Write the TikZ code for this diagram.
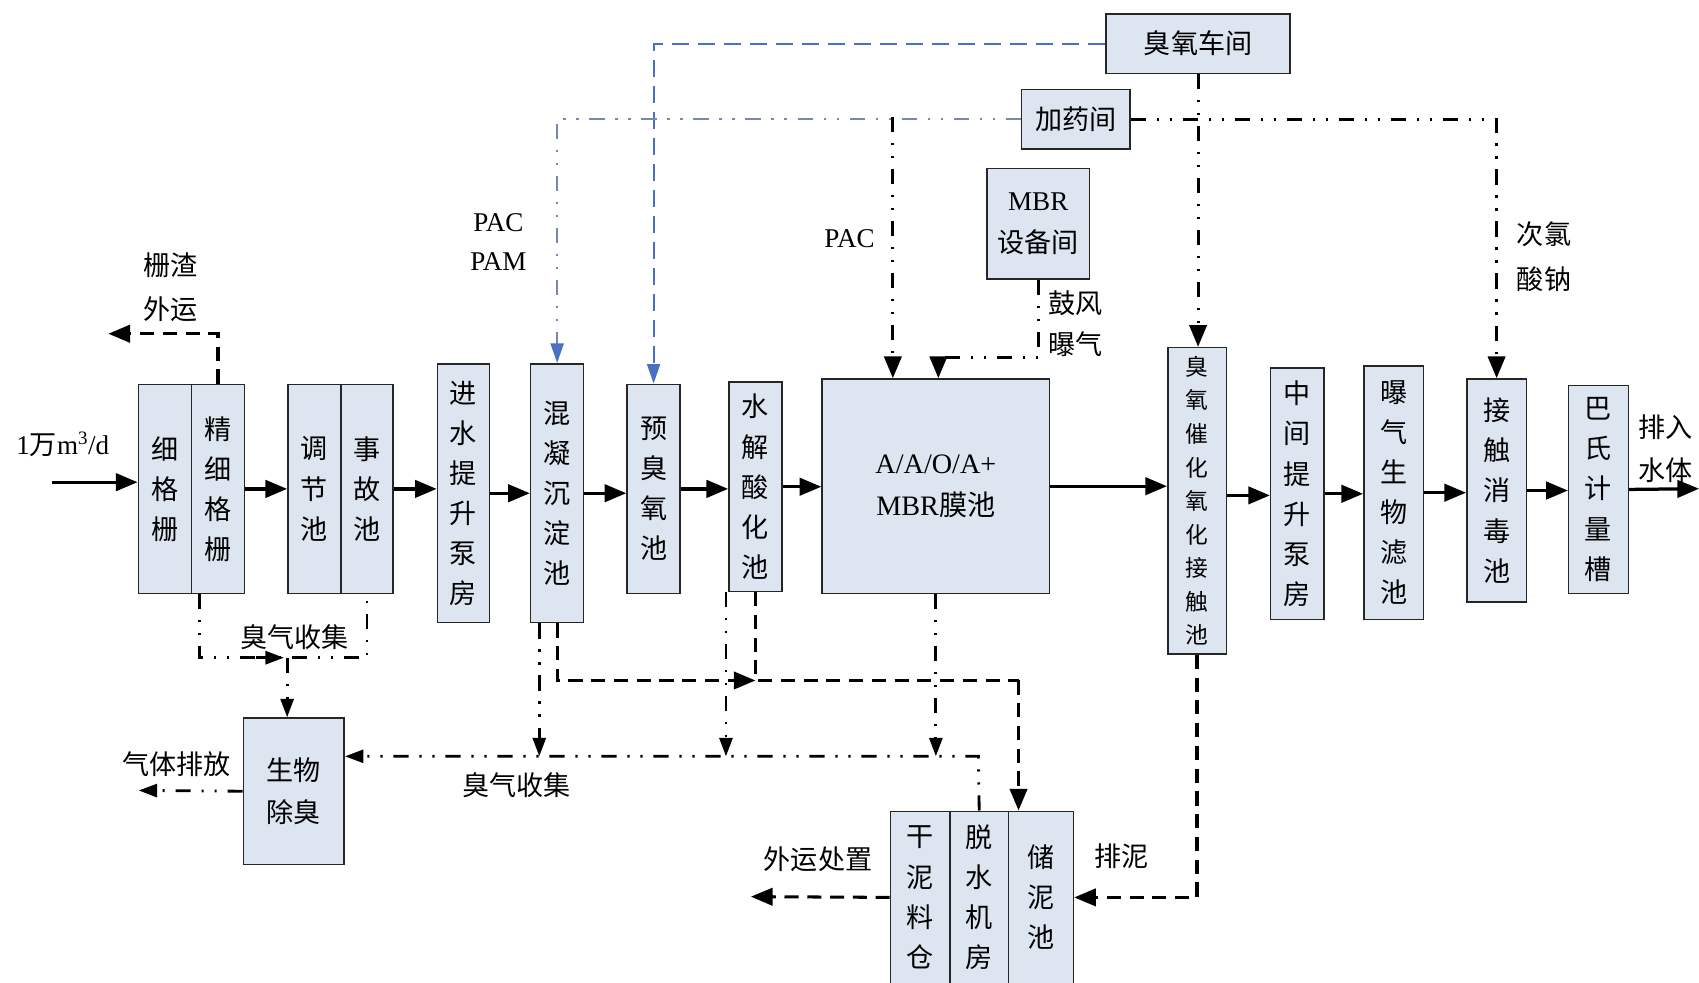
\documentclass[tikz,border=0pt]{standalone}
\usepackage{fontspec}
\setmainfont{Liberation Serif}
\newfontfamily\cjk{Noto Sans CJK SC}
\usetikzlibrary{arrows.meta}
\definecolor{boxfill}{RGB}{221,229,240}
\definecolor{lblue}{RGB}{72,112,196}
\definecolor{lgray}{RGB}{120,135,175}
\tikzset{
  box/.style={draw=black!85, line width=1.4pt, fill=boxfill, inner sep=0pt, anchor=north west, align=center, font=\cjk\fontsize{25}{37}\selectfont},
  arr/.style={-{Triangle[length=20pt,width=16pt]}},
  sarr/.style={-{Triangle[length=17pt,width=12pt]}},
  mainarr/.style={line width=3pt, arr},
  dsh/.style={line width=2.8pt, dash pattern=on 13pt off 8pt},
  dd/.style={line width=2.6pt, dash pattern=on 14pt off 10pt on 2pt off 10pt on 2pt off 10pt},
  lbl/.style={font=\cjk\fontsize{25}{39}\selectfont, align=center, inner sep=0pt},
  rlbl/.style={font=\rmfamily\fontsize{25}{36}\selectfont, align=center, inner sep=0pt},
}
\begin{document}
\begin{tikzpicture}[x=1pt,y=-1pt]
\useasboundingbox (0,0) rectangle (1568,907);
% ---- process boxes
\node[box, minimum width=49pt, minimum height=193pt] (xg) at (127,354) {细\\格\\栅};
\node[box, minimum width=49pt, minimum height=193pt] (jx) at (176,354) {精\\细\\格\\栅};
\node[box, minimum width=49pt, minimum height=193pt] (tj) at (265,354) {调\\节\\池};
\node[box, minimum width=48pt, minimum height=193pt] (sg) at (314,354) {事\\故\\池};
\node[box, minimum width=48pt, minimum height=239pt] (js) at (403,335) {进\\水\\提\\升\\泵\\房};
\node[box, minimum width=49pt, minimum height=239pt] (hn) at (489,335) {混\\凝\\沉\\淀\\池};
\node[box, minimum width=49pt, minimum height=193pt] (yc) at (578,354) {预\\臭\\氧\\池};
\node[box, minimum width=49pt, minimum height=193pt] (sj) at (672,352) {水\\解\\酸\\化\\池};
\node[box, minimum width=210pt, minimum height=198pt, font=\cjk\fontsize{26}{39}\selectfont] (mbr) at (758,349) {{\rmfamily A/A/O/A+}\\{\rmfamily MBR}膜池};
\node[box, minimum width=54pt, minimum height=283pt, font=\cjk\fontsize{21}{31}\selectfont] (cy) at (1077,320) {臭\\氧\\催\\化\\氧\\化\\接\\触\\池};
\node[box, minimum width=49pt, minimum height=232pt] (zj) at (1172,339) {中\\间\\提\\升\\泵\\房};
\node[box, minimum width=55pt, minimum height=234pt] (bq) at (1258,337) {曝\\气\\生\\物\\滤\\池};
\node[box, minimum width=55pt, minimum height=206pt] (jc) at (1353,349) {接\\触\\消\\毒\\池};
\node[box, minimum width=55pt, minimum height=192pt] (bs) at (1447,355) {巴\\氏\\计\\量\\槽};
% ---- service boxes
\node[box, minimum width=170pt, minimum height=55pt] (cyj) at (1020,12) {臭氧车间};
\node[box, minimum width=100pt, minimum height=55pt] (jy) at (942,82) {加药间};
\node[box, minimum width=95pt, minimum height=102pt, font=\cjk\fontsize{25}{39}\selectfont] (mbrs) at (910,155) {{\rmfamily MBR}\\设备间};
\node[box, minimum width=93pt, minimum height=135pt, font=\cjk\fontsize{25}{39}\selectfont] (sw) at (224,662) {生物\\除臭};
\node[box, minimum width=55pt, minimum height=159pt] (gn) at (821,748) {干\\泥\\料\\仓};
\node[box, minimum width=54pt, minimum height=159pt] (ts) at (876,748) {脱\\水\\机\\房};
\node[box, minimum width=60pt, minimum height=159pt] (cn) at (930,748) {储\\泥\\池};
% ---- main flow
\coordinate (in) at (48,445);
\coordinate (out) at (1568,451);
\coordinate (cye) at ([yshift=5pt]cy.east);
\draw[mainarr] (in) -- (in -| xg.west);
\draw[mainarr] (jx.east) -- (tj.west);
\draw[mainarr] (sg.east) -- (js.west |- sg.east);
\draw[mainarr] (js.east) -- (hn.west);
\draw[mainarr] (hn.east) -- (yc.west |- hn.east);
\draw[mainarr] (yc.east) -- (sj.west |- yc.east);
\draw[mainarr] (sj.east) -- (mbr.west |- sj.east);
\draw[mainarr] (mbr.east) -- (cy.west |- mbr.east);
\draw[mainarr] (cye) -- (cye -| zj.west);
\draw[mainarr] (zj.east) -- (bq.west |- zj.east);
\draw[mainarr] (bq.east) -- (jc.west |- bq.east);
\draw[mainarr] (jc.east) -- (bs.west |- jc.east);
\draw[mainarr] (bs.east) -- (out);
\node[rlbl] at (58,410) {1{\cjk 万}m\textsuperscript{3}/d};
\node[lbl, font=\cjk\fontsize{25}{40}\selectfont] at (157,265) {栅渣\\外运};
\node[lbl] at (1537,414) {排入\\水体};
% ---- chemicals / ozone
\coordinate (ycn) at ([yshift=14pt]yc.north);
\coordinate (ycn2) at ([yshift=16pt]yc.north);
\coordinate (hnn) at ([yshift=14pt]hn.north);
\coordinate (hnn2) at ([yshift=16pt]hn.north);
\draw[lblue, line width=1.8pt, dash pattern=on 16pt off 8pt] (cyj.west) -| (ycn);
\draw[lblue, -{Triangle[length=18pt,width=12pt]}, line width=1.8pt] (ycn2) -- (yc.north);
\draw[lgray, line width=1.8pt, dash pattern=on 14pt off 10pt on 2pt off 10pt on 2pt off 10pt] (jy.west) -| (hnn);
\draw[lblue, -{Triangle[length=18pt,width=12pt]}, line width=1.8pt] (hnn2) -- (hn.north);
\coordinate (pac) at (824,108);
\draw[dd, arr] (pac) -- (pac |- mbr.north);
\coordinate (gf) at (866,330);
\draw[dd, arr] (mbrs.south) |- (gf) -- (gf |- mbr.north);
\draw[dd, arr] (cyj.south) -- (cyj.south |- cy.north);
\draw[dd, arr] (jy.east) -| (jc.north);
\node[rlbl] at (460,223) {PAC\\PAM};
\node[rlbl] at (784,220) {PAC};
\node[lbl, font=\cjk\fontsize{25}{38}\selectfont] at (993,299) {鼓风\\曝气};
\node[lbl, font=\cjk\fontsize{25}{41}\selectfont] at (1425,237) {次氯\\酸钠};
% ---- screenings
\coordinate (zz) at (100,308);
\draw[dsh, arr] (jx.north) |- (zz);
% ---- odour collection (upper)
\coordinate (oc) at (265,607);
\coordinate (jxs) at ([xshift=8pt]jx.south west);
\draw[dd] (jxs) |- (oc) -| (sg.south);
\draw[line width=2.6pt, sarr] (236,607) -- (262,607);
\draw[dd, sarr] (oc) -- (oc |- sw.north);
\node[lbl] at (272,588) {臭气收集};
\coordinate (gas) at (128,729.5);
\draw[dd, sarr] (sw.west) -- (gas);
\node[lbl] at (163,705) {气体排放};
% ---- odour collection (lower)
\coordinate (ol) at (903,698);
\coordinate (hns) at ([xshift=-16.5pt]hn.south);
\coordinate (sjs) at ([xshift=-2pt]sj.south west);
\draw[dd, sarr] (ts.north) -- (ol) -- (ol -| sw.east);
\draw[dd, sarr] (hns) -- (hns |- ol);
\draw[dd, sarr] (sjs) -- (sjs |- ol);
\draw[dd, sarr] (mbr.south) -- (mbr.south |- ol);
\node[lbl] at (477,725) {臭气收集};
% ---- sludge
\coordinate (sl) at (940,628);
\draw[dsh, arr] (hn.south) |- (sj.south |- sl);
\draw[dsh] (sj.south) -- (sj.south |- sl) -- (sl);
\draw[dsh, arr] (sl) -- (sl |- cn.north);
\coordinate (wy) at (693,827.5);
\draw[dsh, arr] (gn.west) -- (wy);
\node[lbl] at (755,793) {外运处置};
\draw[dsh, arr] (cy.south) |- (cn.east);
\node[lbl] at (1035,790) {排泥};
\end{tikzpicture}
\end{document}
